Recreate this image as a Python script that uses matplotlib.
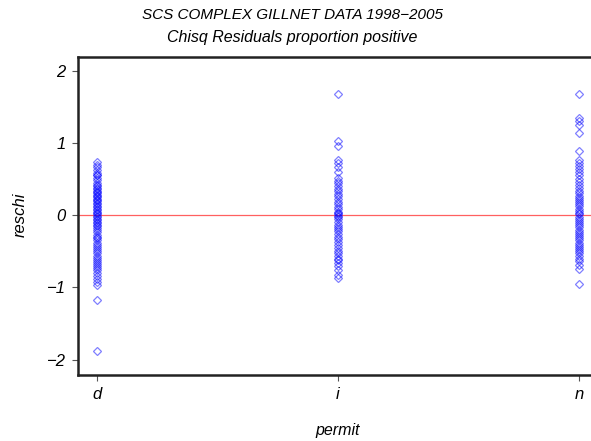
import matplotlib
matplotlib.use('Agg')
import matplotlib.pyplot as plt

# permit categories and chi-square residuals
permits = ['d', 'i', 'n']
reschi_d = [0.73, 0.70, 0.66, 0.62, 0.58, 0.56, 0.55, 0.51, 0.48, 0.45, 0.42, 0.40,
            0.38, 0.36, 0.34, 0.32, 0.30, 0.28, 0.26, 0.25, 0.23, 0.21, 0.19, 0.17,
            0.15, 0.13, 0.11, 0.09, 0.07, 0.05, 0.03, 0.01, -0.01, -0.03, -0.05,
            -0.07, -0.09, -0.11, -0.13, -0.15, -0.18, -0.21, -0.24, -0.27, -0.30,
            -0.32, -0.35, -0.38, -0.41, -0.44, -0.47, -0.50, -0.53, -0.56, -0.59,
            -0.62, -0.65, -0.68, -0.71, -0.73, -0.76, -0.80, -0.84, -0.88, -0.92,
            -0.96, -1.17, -1.88]
reschi_i = [1.68, 1.03, 0.95, 0.76, 0.72, 0.67, 0.60, 0.52, 0.47, 0.44, 0.40, 0.36,
            0.33, 0.29, 0.26, 0.22, 0.18, 0.15, 0.11, 0.08, 0.05, 0.03, 0.01, -0.01,
            -0.03, -0.06, -0.09, -0.13, -0.16, -0.19, -0.22, -0.26, -0.30, -0.33,
            -0.37, -0.41, -0.45, -0.49, -0.53, -0.57, -0.60, -0.62, -0.66, -0.71,
            -0.76, -0.83, -0.87]
reschi_n = [1.68, 1.35, 1.30, 1.25, 1.14, 0.89, 0.76, 0.72, 0.68, 0.64, 0.60, 0.55,
            0.50, 0.46, 0.42, 0.38, 0.34, 0.30, 0.27, 0.24, 0.21, 0.18, 0.15, 0.12,
            0.09, 0.06, 0.03, 0.01, -0.02, -0.05, -0.08, -0.11, -0.14, -0.17, -0.20,
            -0.23, -0.26, -0.29, -0.32, -0.35, -0.38, -0.41, -0.44, -0.47, -0.50,
            -0.53, -0.56, -0.60, -0.64, -0.69, -0.74, -0.95]
yticks = [-2, -1, 0, 1, 2]

plt.rcParams['font.family'] = ['Liberation Sans', 'DejaVu Sans']
plt.rcParams['font.style'] = 'italic'

fig = plt.figure(figsize=(5.91, 4.41), dpi=100)
# the plot frame runs off the right edge of the picture, as in the original
ax = fig.add_axes([0.132, 0.150, 0.880, 0.721])

for pos, vals in enumerate([reschi_d, reschi_i, reschi_n], start=1):
    ax.plot([pos] * len(vals), vals, linestyle='none', marker='D', markersize=3.8,
            markerfacecolor='none', markeredgecolor='blue', markeredgewidth=0.9,
            alpha=0.5)

ax.axhline(0, color='#ff6060', linewidth=0.9, zorder=0)

ax.set_xlim(0.921, 3.079)
ax.set_ylim(-2.21, 2.19)
ax.set_xticks([1, 2, 3])
ax.set_xticklabels(permits)
ax.set_yticks(yticks)
ax.set_yticklabels(['\u22122', '\u22121', '0', '1', '2'])
ax.tick_params(direction='out', length=4, width=0.8, color='#555555',
               labelsize=12, pad=5)
ax.tick_params(top=False, right=False)
for sp in ax.spines.values():
    sp.set_linewidth(1.8)
    sp.set_color('#222222')

fig.text(338 / 591, 1 - 430 / 441, 'permit', ha='center', va='center', fontsize=11.5)
fig.text(20 / 591, 1 - 215 / 441, 'reschi', ha='center', va='center',
         rotation=90, fontsize=12)

fig.text(292 / 591, 0.967, 'SCS COMPLEX GILLNET DATA 1998\u22122005', ha='center',
         va='center', fontsize=11)
fig.text(292 / 591, 0.915, 'Chisq Residuals proportion positive', ha='center',
         va='center', fontsize=11.5)

fig.savefig('out.png', dpi=100)
